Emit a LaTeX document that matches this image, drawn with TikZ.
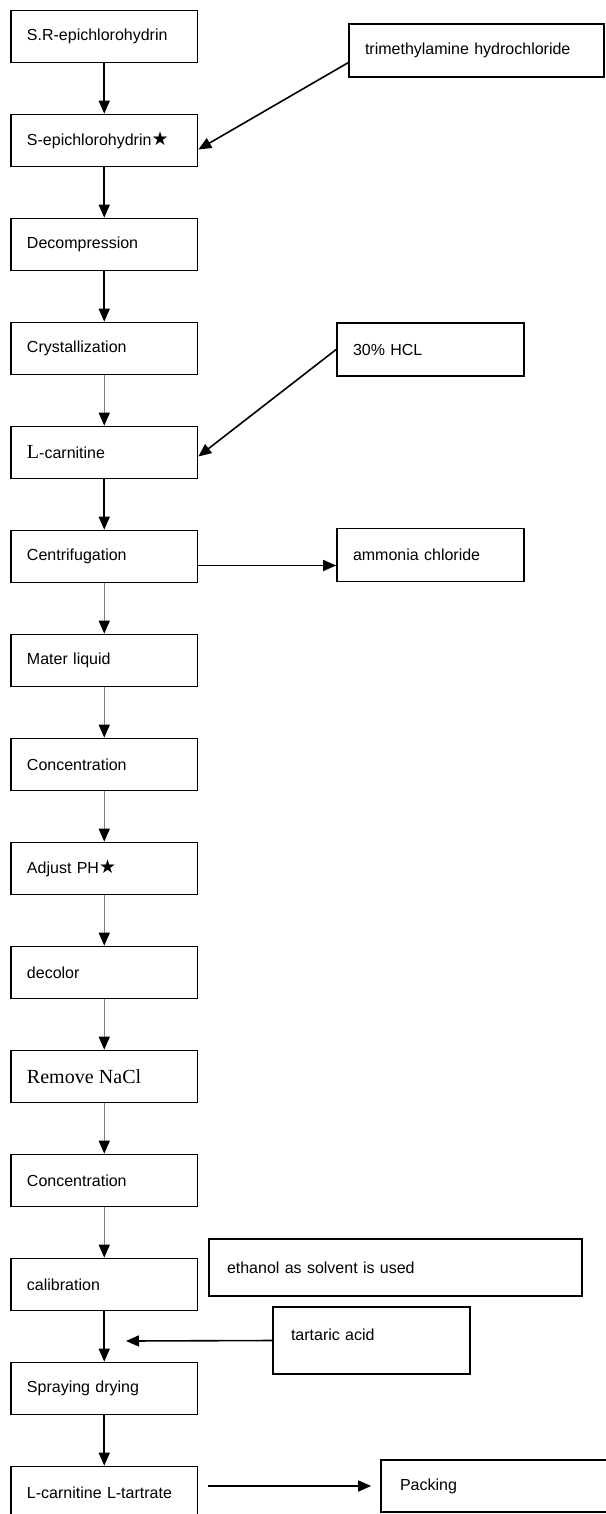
\documentclass[tikz,border=0pt]{standalone}
\usepackage{fontspec}
\setmainfont{Liberation Sans}
\newfontfamily\timesfont{Liberation Serif}
\newfontfamily\starfont{DejaVu Sans}
\usetikzlibrary{arrows.meta}
\newcommand{\bstar}{{\starfont\fontsize{19pt}{19pt}\selectfont ★}}

\begin{document}
\begin{tikzpicture}[x=1pt,y=-1pt,
          >={Triangle[length=13pt,width=11pt,color=black]},
          every node/.style={font=\fontsize{16pt}{19pt}\selectfont},
          stepbox/.style={draw,line width=1.7pt,inner xsep=16pt,text width=154.5pt,align=left,minimum height=52pt},
          sidebox/.style={draw,line width=1.7pt,inner xsep=16pt,text width=#1,align=left,minimum height=53pt},
          flow/.style={->,line width=1.6pt},
          greyflow/.style={->,line width=1.5pt,draw=black!50}]
          \useasboundingbox (0,0) rectangle (605,1514);
          % main column
          \node[stepbox] (sr) at (104.25,36.5) {S.R-epichlorohydrin};
          \node[stepbox] (sepi) at (104.25,140.5) {S-epichlorohydrin\bstar};
          \node[stepbox] (decomp) at (104.25,244.5) {Decompression};
          \node[stepbox] (cryst) at (104.25,348.5) {Crystallization};
          \node[stepbox] (lcar) at (104.25,452.5) {{\timesfont\fontsize{20pt}{20pt}\selectfont L}-carnitine};
          \node[stepbox] (centri) at (104.25,556.5) {Centrifugation};
          \node[stepbox] (mater) at (104.25,660.5) {Mater liquid};
          \node[stepbox] (conc) at (104.25,764.5) {Concentration};
          \node[stepbox] (adjph) at (104.25,868.5) {Adjust PH\bstar};
          \node[stepbox] (decol) at (104.25,972.5) {decolor};
          \node[stepbox] (nacl) at (104.25,1076.5) {\timesfont\fontsize{20pt}{22pt}\selectfont Remove NaCl};
          \node[stepbox] (conca) at (104.25,1180.5) {Concentration};
          \node[stepbox] (calib) at (104.25,1284.5) {calibration};
          \node[stepbox] (spray) at (104.25,1388.5) {Spraying drying};
          \node[stepbox] (ltar) at (104.25,1492.5) {L-carnitine L-tartrate};
          % side boxes
          \node[sidebox=223pt] (tma) at (476.5,50.7) {trimethylamine hydrochloride};
          \node[sidebox=155pt] (hcl) at (430.5,349.5) {30\% HCL};
          \node[sidebox=155pt] (ammo) at (430.5,555) {ammonia chloride};
          \node[sidebox=337pt,inner xsep=18pt,minimum height=57pt] (etha) at (395.5,1267.5) {ethanol as solvent is used};
          \node[sidebox=161pt,inner xsep=18pt,minimum height=67pt,text depth=11pt] (tart) at (371.5,1340.5) {tartaric acid};
          \node[sidebox=194pt,inner xsep=19pt,minimum height=52pt] (pack) at (497,1486) {Packing};
          \coordinate (tartip) at (126,1341);
          \draw[flow] (sr) -- (sepi);
          \draw[flow] (sepi) -- (decomp);
          \draw[flow] (decomp) -- (cryst);
          \draw[greyflow] (cryst) -- (lcar);
          \draw[flow] (lcar) -- (centri);
          \draw[greyflow] (centri) -- (mater);
          \draw[greyflow] (mater) -- (conc);
          \draw[greyflow] (conc) -- (adjph);
          \draw[greyflow] (adjph) -- (decol);
          \draw[greyflow] (decol) -- (nacl);
          \draw[greyflow] (nacl) -- (conca);
          \draw[greyflow] (conca) -- (calib);
          \draw[flow] (calib) -- (spray);
          \draw[flow] (spray) -- (ltar);
          \draw[flow] ([yshift=-12pt]tma.west) -- ([yshift=-9pt]sepi.east);
          \draw[flow] (hcl.west) -- ([yshift=-4pt]lcar.east);
          \draw[flow] ([yshift=-9pt]centri.east) -- ([yshift=-9pt]centri.east -| ammo.west);
          \draw[flow] (tart.west) -- (tartip);
          \draw[flow,shorten <=10pt,shorten >=9pt] (pack.west -| ltar.east) -- (pack.west);
        \end{tikzpicture}
\end{document}
